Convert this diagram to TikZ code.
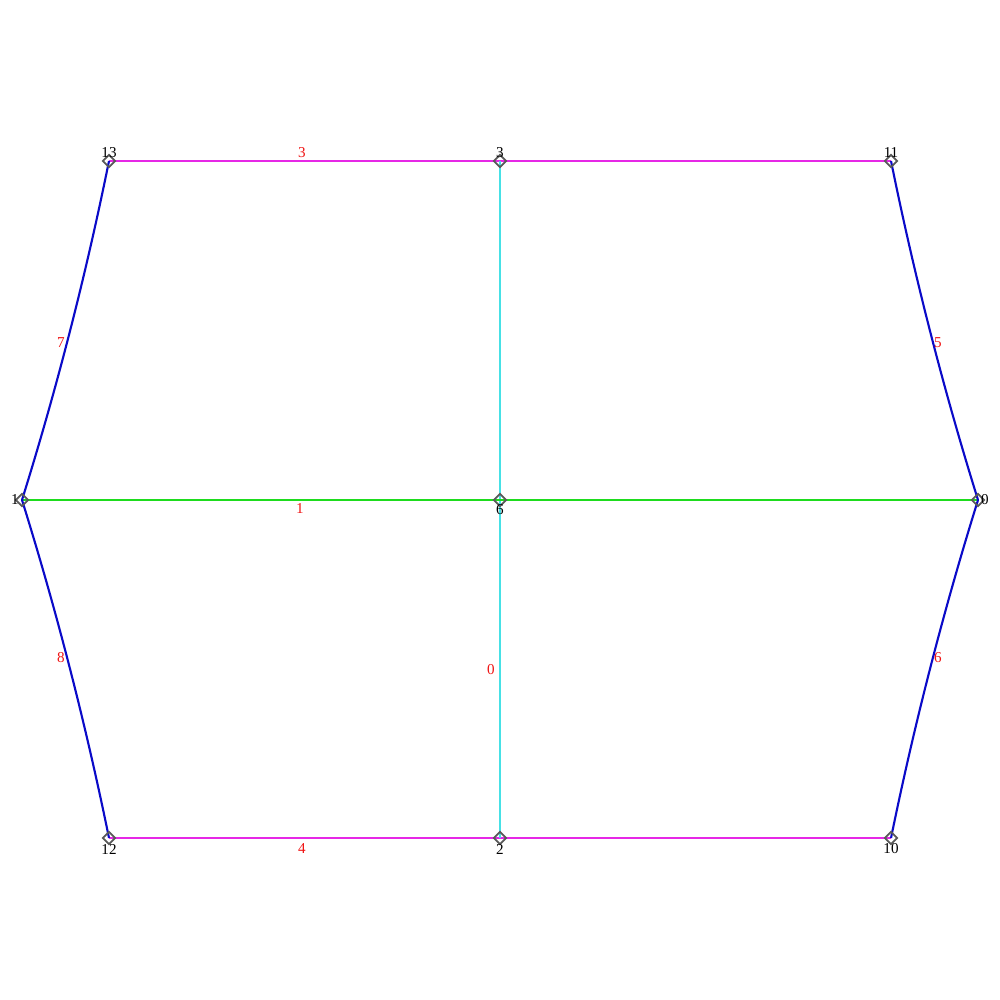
\documentclass[tikz,border=0pt]{standalone}
\usepackage{fontspec}
\setmainfont{Liberation Serif}
\usetikzlibrary{shapes.geometric}
\definecolor{emag}{RGB}{230,40,230}
\definecolor{ecyan}{RGB}{70,225,230}
\definecolor{egreen}{RGB}{30,220,30}
\definecolor{eblue}{RGB}{10,10,200}
\definecolor{elab}{RGB}{240,20,20}
\tikzset{
  vtx/.style={diamond, draw=black!65, line width=0.5pt, inner sep=0pt, minimum width=0.13cm, minimum height=0.13cm},
  vlab/.style={font=\fontsize{4.3}{5}\selectfont, text=black, inner sep=0pt},
  elabel/.style={font=\fontsize{4.3}{5}\selectfont, text=elab, inner sep=0pt},
  edge/.style={line width=0.6pt},
}
\begin{document}
\begin{tikzpicture}
\useasboundingbox (0,0) rectangle (10,10);
\fill[white] (0,0) rectangle (10,10);
% vertices
\coordinate (c13) at (1.09,8.39);
\coordinate (c3) at (5.00,8.39);
\coordinate (c11) at (8.91,8.39);
\coordinate (c1) at (0.22,5.00);
\coordinate (c6) at (5.00,5.00);
\coordinate (c0) at (9.78,5.00);
\coordinate (c12) at (1.09,1.62);
\coordinate (c2) at (5.00,1.62);
\coordinate (c10) at (8.91,1.62);
% edges
\draw[edge, emag] (c13) -- (c3);
\draw[edge, emag] (c3) -- (c11);
\draw[edge, emag] (c12) -- (c2);
\draw[edge, emag] (c2) -- (c10);
\draw[edge, ecyan] (c3) -- (c6);
\draw[edge, ecyan] (c6) -- (c2);
\draw[edge, egreen] (c1) -- (c6);
\draw[edge, egreen] (c6) -- (c0);
\draw[edge, eblue] (c13) .. controls (0.858,7.245) and (0.568,6.115) .. (c1);
\draw[edge, eblue] (c1) .. controls (0.568,3.885) and (0.858,2.755) .. (c12);
\draw[edge, eblue] (c11) .. controls (9.142,7.245) and (9.432,6.115) .. (c0);
\draw[edge, eblue] (c0) .. controls (9.432,3.885) and (9.142,2.755) .. (c10);
% vertex markers
\foreach \v in {13,3,11,1,6,0,12,2,10}{
  \node[vtx] (n\v) at (c\v) {};
}
% vertex labels
\node[vlab] (l13) at (1.09,8.47) {13};
\node[vlab] (l3) at (5.00,8.47) {3};
\node[vlab] (l11) at (8.91,8.47) {11};
\node[vlab] (l1) at (0.15,5.00) {1};
\node[vlab] (l6) at (5.00,4.90) {6};
\node[vlab] (l0) at (9.85,5.00) {0};
\node[vlab] (l12) at (1.09,1.51) {12};
\node[vlab] (l2) at (5.00,1.51) {2};
\node[vlab] (l10) at (8.91,1.51) {10};
% edge labels
\node[elabel] (e3) at (3.02,8.47) {3};
\node[elabel] (e4) at (3.02,1.51) {4};
\node[elabel] (e7) at (0.61,6.57) {7};
\node[elabel] (e8) at (0.61,3.42) {8};
\node[elabel] (e5) at (9.38,6.57) {5};
\node[elabel] (e6) at (9.38,3.42) {6};
\node[elabel] (e1) at (3.00,4.91) {1};
\node[elabel] (e0) at (4.91,3.30) {0};
\end{tikzpicture}
\end{document}
